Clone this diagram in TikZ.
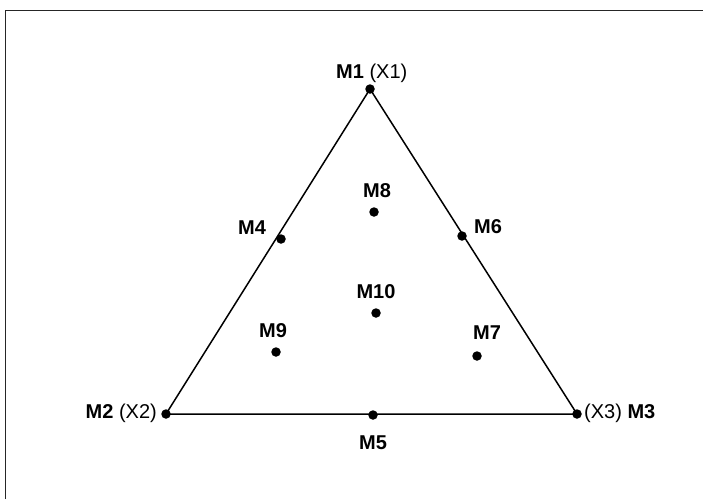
\documentclass[tikz,border=0pt]{standalone}
\usepackage{fontspec}
\setmainfont{Liberation Sans}
\begin{document}
\begin{tikzpicture}[x=1pt,y=-1pt,
  pt/.style={circle,fill=black,inner sep=0pt,minimum size=9.5pt},
  lbl/.style={font=\fontsize{20}{24}\selectfont\bfseries,inner sep=0pt},
  edge/.style={line width=1.5pt,black},
  frame/.style={line width=1.3pt,black!85}]
\useasboundingbox (0,0) rectangle (703,499);
\coordinate (fr1) at (5.5,499);
\coordinate (fr2) at (5.5,10.5);
\coordinate (fr3) at (703,10.5);
\draw[frame] (fr1) -- (fr2) -- (fr3);
% points
\node[pt] (m1) at (370,89) {};
\node[pt] (m2) at (166,414) {};
\node[pt] (m3) at (577,414) {};
\node[pt] (m4) at (281,239) {};
\node[pt] (m5) at (373,415) {};
\node[pt] (m6) at (462,236) {};
\node[pt] (m7) at (477,356) {};
\node[pt] (m8) at (374,212) {};
\node[pt] (m9) at (276,352) {};
\node[pt] (m10) at (376,313) {};
\draw[edge] (m1.center) -- (m2.center) -- (m3.center) -- cycle;
% labels
\node[lbl,anchor=base west] (l1) at (336,78) {M1 \mdseries (X1)};
\node[lbl,anchor=base east] (l2) at (157,418) {M2 \mdseries (X2)};
\node[lbl,anchor=base west] (l3) at (584,418) {\mdseries (X3) \bfseries M3};
\node[lbl,anchor=base] (l4) at (252,234) {M4};
\node[lbl,anchor=base] (l5) at (373,449) {M5};
\node[lbl,anchor=base] (l6) at (488,233) {M6};
\node[lbl,anchor=base] (l7) at (487,339) {M7};
\node[lbl,anchor=base] (l8) at (377,197) {M8};
\node[lbl,anchor=base] (l9) at (273,337) {M9};
\node[lbl,anchor=base] (l10) at (376,298) {M10};
\end{tikzpicture}
\end{document}
